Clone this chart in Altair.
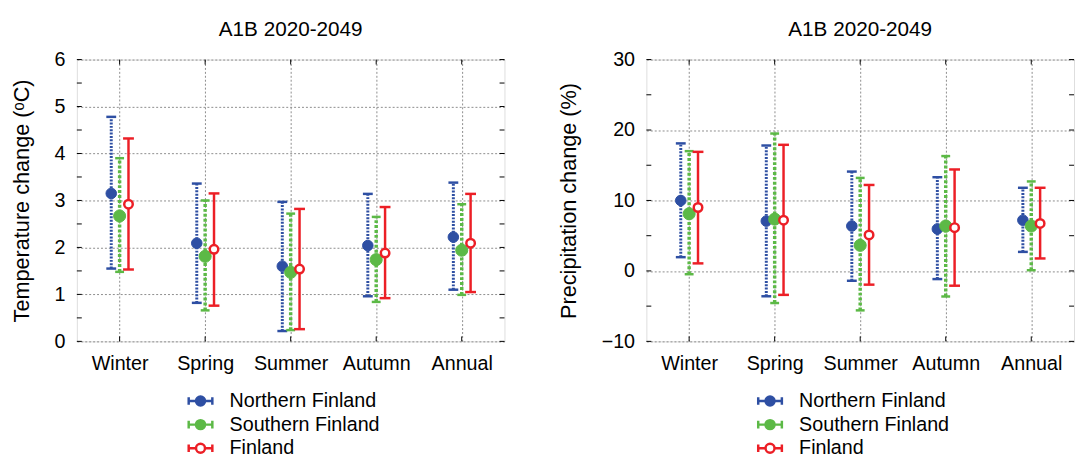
import altair as alt
import pandas as pd

seasons = ["Winter", "Spring", "Summer", "Autumn", "Annual"]
series = ["Northern Finland", "Southern Finland", "Finland"]

# Temperature change (deg C)
t_north_mean = [3.15, 2.09, 1.60, 2.04, 2.22]
t_north_low = [1.55, 0.82, 0.22, 0.96, 1.10]
t_north_high = [4.78, 3.36, 2.97, 3.14, 3.38]
t_south_mean = [2.67, 1.81, 1.47, 1.74, 1.94]
t_south_low = [1.48, 0.66, 0.24, 0.84, 0.99]
t_south_high = [3.90, 3.00, 2.72, 2.65, 2.92]
t_fin_mean = [2.92, 1.96, 1.54, 1.88, 2.09]
t_fin_low = [1.53, 0.76, 0.26, 0.92, 1.05]
t_fin_high = [4.32, 3.15, 2.82, 2.86, 3.14]

# Precipitation change (%)
p_north_mean = [10.0, 7.07, 6.37, 5.95, 7.2]
p_north_low = [1.95, -3.6, -1.4, -1.16, 2.7]
p_north_high = [18.1, 17.8, 14.1, 13.3, 11.8]
p_south_mean = [8.1, 7.35, 3.63, 6.37, 6.37]
p_south_low = [-0.47, -4.56, -5.6, -3.63, 0.1]
p_south_high = [17.0, 19.5, 13.2, 16.3, 12.7]
p_fin_mean = [9.0, 7.2, 5.1, 6.14, 6.74]
p_fin_low = [1.07, -3.4, -1.95, -2.1, 1.77]
p_fin_high = [16.9, 17.9, 12.2, 14.4, 11.8]

temp_ticks = [0, 0.5, 1, 1.5, 2, 2.5, 3, 3.5, 4, 4.5, 5, 5.5, 6]
temp_labels = [0, 1, 2, 3, 4, 5, 6]
prec_ticks = [-10, -5, 0, 5, 10, 15, 20, 25, 30]
prec_labels = [-10, 0, 10, 20, 30]

BLUE = "#2e4fa3"
GREEN = "#5cb946"
RED = "#ec1f26"
stroke_range = [BLUE, GREEN, RED]
fill_range = [BLUE, GREEN, "white"]

W, H = 434, 286
FONT = "Liberation Sans"
GRID = "#8c8c8c"

styles = {
    "Northern Finland": dict(off=-8.5, color=BLUE, width=3, dash=[2, 1.4], cap=10, size=115, sw=1),
    "Southern Finland": dict(off=0, color=GREEN, width=3.5, dash=[3, 2], cap=9, size=150, sw=1),
    "Finland": dict(off=9, color=RED, width=2.5, dash=None, cap=11, size=75, sw=2.5),
}

LEGEND_PATH = ("M-1,0L-0.38,0M0.38,0L1,0M-1,-0.32L-1,0.32M1,-0.32L1,0.32"
               "M-0.38,0A0.38,0.38 0 1,1 0.38,0A0.38,0.38 0 1,1 -0.38,0Z")


def make_df(means, lows, highs):
    rows = []
    for s, m, l, h in zip(series, means, lows, highs):
        for i, season in enumerate(seasons):
            rows.append({"season": season, "series": s, "mean": m[i], "low": l[i], "high": h[i]})
    return pd.DataFrame(rows)


def panel(df, domain, ticks, labels, ytitle):
    xenc = alt.X("season:N", sort=seasons,
                 scale=alt.Scale(type="point", padding=0.5),
                 axis=alt.Axis(title=None, labelAngle=0, labelFontSize=20, labelPadding=13,
                               tickSize=0, domain=False, grid=True, gridDash=[2, 2],
                               gridColor=GRID, labelColor="black", labelFont=FONT))
    yscale = alt.Scale(domain=domain, nice=False, zero=False)
    yaxis = alt.Axis(values=labels, title=ytitle, titleFontSize=22, titleFontWeight="normal",
                     titleFont=FONT, titleColor="black", titlePadding=21,
                     labelFontSize=20, labelFont=FONT, labelColor="black", labelPadding=12,
                     tickSize=0, domain=False, grid=True, gridDash=[2, 2], gridColor=GRID)
    base = alt.Chart(df)
    layers = []
    for s in series:
        st = styles[s]
        sub = base.transform_filter(alt.datum.series == s)
        rule_kw = dict(xOffset=st["off"], strokeWidth=st["width"], color=st["color"])
        if st["dash"]:
            rule_kw["strokeDash"] = st["dash"]
        layers.append(sub.mark_rule(**rule_kw).encode(
            x=xenc, y=alt.Y("low:Q", scale=yscale, axis=yaxis), y2="high:Q"))
        for fld in ["low", "high"]:
            layers.append(sub.mark_tick(xOffset=st["off"], size=st["cap"], thickness=2.5,
                                        color=st["color"], orient="horizontal", opacity=1).encode(
                x=xenc, y=alt.Y(f"{fld}:Q", scale=yscale, axis=yaxis)))
    for s in series:
        st = styles[s]
        sub = base.transform_filter(alt.datum.series == s)
        legend = alt.Legend(orient="none", legendX=112, legendY=333, title=None,
                            symbolType=LEGEND_PATH, symbolSize=576, symbolStrokeWidth=2.5,
                            labelFontSize=20, labelFont=FONT, labelColor="black",
                            labelOffset=16, rowPadding=-1, labelLimit=300)
        layers.append(sub.mark_point(xOffset=st["off"], size=st["size"], strokeWidth=st["sw"],
                                     opacity=1).encode(
            x=xenc, y=alt.Y("mean:Q", scale=yscale, axis=yaxis),
            fill=alt.Fill("series:N", scale=alt.Scale(domain=series, range=fill_range), legend=legend),
            stroke=alt.Stroke("series:N", scale=alt.Scale(domain=series, range=stroke_range), legend=legend),
        ))
    tick_df = pd.DataFrame({"v": ticks})
    season_df = pd.DataFrame({"season": seasons})
    tick_rule = dict(color="black", strokeWidth=1)
    layers.append(alt.Chart(tick_df).mark_rule(**tick_rule).encode(
        y=alt.Y("v:Q", scale=yscale, axis=yaxis), x=alt.value(0), x2=alt.value(5)))
    layers.append(alt.Chart(tick_df).mark_rule(**tick_rule).encode(
        y=alt.Y("v:Q", scale=yscale, axis=yaxis), x=alt.value(W - 5), x2=alt.value(W)))
    layers.append(alt.Chart(season_df).mark_rule(**tick_rule).encode(
        x=xenc, y=alt.value(0), y2=alt.value(5)))
    layers.append(alt.Chart(season_df).mark_rule(**tick_rule).encode(
        x=xenc, y=alt.value(H - 5), y2=alt.value(H)))
    return alt.layer(*layers).properties(
        width=W, height=H,
        title=alt.TitleParams("A1B 2020-2049", fontSize=21, font=FONT, fontWeight="normal",
                              color="black", offset=10))


left = panel(make_df([t_north_mean, t_south_mean, t_fin_mean],
                     [t_north_low, t_south_low, t_fin_low],
                     [t_north_high, t_south_high, t_fin_high]),
             [0, 6], temp_ticks, temp_labels, "Temperature change (ᵒC)")
right = panel(make_df([p_north_mean, p_south_mean, p_fin_mean],
                      [p_north_low, p_south_low, p_fin_low],
                      [p_north_high, p_south_high, p_fin_high]),
              [-10, 30], prec_ticks, prec_labels, "Precipitation change (%)")

chart = alt.hconcat(left, right, spacing=52).resolve_scale(
    fill="independent", stroke="independent", y="independent"
).properties(
    padding={"left": 10, "top": 15, "right": 0, "bottom": 0}
).configure_view(stroke="black", strokeWidth=1.5).configure(background="white")

chart.save("out.html", embed_options={"renderer": "svg", "actions": False})
